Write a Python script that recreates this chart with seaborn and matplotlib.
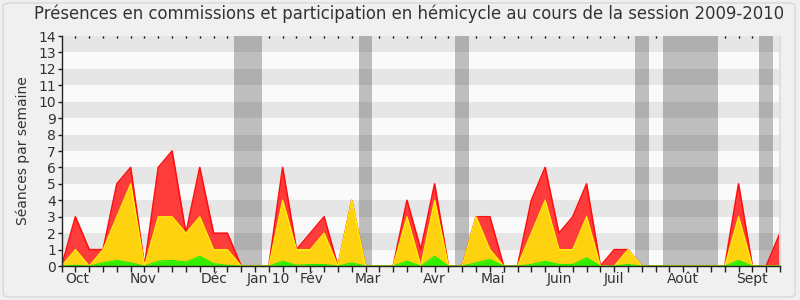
import numpy as np
import pandas as pd
import seaborn as sns
import matplotlib
matplotlib.use("Agg")
import matplotlib.pyplot as plt
from matplotlib.patches import FancyBboxPatch

# ---- data (cumulative tops of the stacked areas, one value per week) ----
weeks = list(range(53))
total = [0, 3, 1, 1, 5, 6, 0, 6, 7, 2, 6, 2, 2, 0, 0, 0, 6, 1, 2, 3, 0, 4, 0, 0, 0, 4,
         1, 5, 0, 0, 3, 3, 0, 0, 4, 6, 2, 3, 5, 0, 1, 1, 0, 0, 0, 0, 0, 0, 0, 5, 0, 0, 2]
commission = [0, 1, 0, 1, 3, 5, 0, 3, 3, 2, 3, 1, 1, 0, 0, 0, 4, 1, 1, 2, 0, 4, 0, 0, 0, 3,
              0, 4, 0, 0, 3, 1, 0, 0, 2, 4, 1, 1, 3, 0, 0, 1, 0, 0, 0, 0, 0, 0, 0, 3, 0, 0, 0]
interventions = [0, 0.05, 0, 0.2, 0.35, 0.2, 0, 0.3, 0.35, 0.25, 0.6, 0.15, 0.05, 0, 0, 0,
                 0.3, 0.05, 0.1, 0.1, 0, 0.2, 0, 0, 0, 0.3, 0, 0.6, 0, 0, 0.2, 0.4, 0, 0,
                 0.1, 0.3, 0.1, 0.1, 0.5, 0, 0, 0.1, 0, 0, 0, 0, 0, 0, 0, 0.35, 0, 0, 0]
vacations = [(12.5, 14.5), (21.5, 22.5), (28.5, 29.5), (41.5, 42.5), (43.5, 47.5), (50.5, 51.5)]
month_labels = ['Oct', 'Nov', 'Déc', 'Jan 10', 'Fév', 'Mar', 'Avr', 'Mai', 'Juin', 'Juil', 'Août', 'Sept']
month_pos = [1.1, 5.9, 11.0, 14.95, 18.1, 22.2, 27.0, 31.2, 36.0, 40.0, 45.0, 50.0]

df = pd.DataFrame({"week": weeks, "total": total, "commission": commission,
                   "interventions": interventions})

sns.set_theme(style="white")
plt.rcParams['font.family'] = ['DejaVu Sans']
txt = '#333333'

fig = plt.figure(figsize=(8, 3), dpi=100)
fig.patch.set_facecolor('#f0f0f0')
fig.patches.append(FancyBboxPatch((0.004, 0.01), 0.99, 0.98, boxstyle="round,pad=0,rounding_size=0.01",
                                  transform=fig.transFigure, facecolor='none',
                                  edgecolor='#d8d8d8', linewidth=1, zorder=-5))
ax = fig.add_axes([0.077, 0.113, 0.898, 0.767])
ax.set_facecolor('#fafafa')

# vacation bands
for a, b in vacations:
    ax.axvspan(a, b, color='#bebebe', lw=0, zorder=0.5)
# horizontal stripes
for y0 in range(1, 14, 2):
    ax.axhspan(y0, y0 + 1, color='black', alpha=0.08, lw=0, zorder=0.6)

# stacked areas
ax.fill_between(df.week, df.commission, df.total, color='#ff3c3c', lw=0, zorder=2)
ax.fill_between(df.week, df.interventions, df.commission, color='#ffd210', lw=0, zorder=3)
ax.fill_between(df.week, 0, df.interventions, color='#33ee00', lw=0, zorder=4)
sns.lineplot(data=df, x='week', y='total', color='#ff1010', lw=1.2, ax=ax, zorder=2.5)
sns.lineplot(data=df, x='week', y='commission', color='#ffee00', lw=1.0, ax=ax, zorder=3.5)
sns.lineplot(data=df, x='week', y='interventions', color='#22ee00', lw=0.8, ax=ax, zorder=4.5)

ax.set_xlim(0, 52)
ax.set_ylim(0, 14)
ax.set_yticks(range(0, 15))
ax.set_yticklabels([str(i) for i in range(15)], fontsize=10, color=txt)
ax.xaxis.remove_overlapping_locs = False
ax.set_xticks(range(0, 53))
ax.set_xticklabels([])
ax.set_xticks(month_pos, minor=True)
ax.set_xticklabels(month_labels, minor=True, fontsize=10, color=txt)
ax.tick_params(axis='x', which='major', direction='out', length=4, width=1, color='#222222',
               bottom=True, top=False)
ax.tick_params(axis='x', which='minor', length=0, pad=4)
ax.tick_params(axis='y', direction='out', length=3, width=1, color='#222222', left=True, pad=1)
# small dots along the top edge
sec = ax.secondary_xaxis('top')
sec.set_xticks(range(1, 52))
sec.set_xticklabels([])
sec.tick_params(direction='in', length=1.5, width=1, color='black')
sec.spines['top'].set_visible(False)

ax.set_xlabel('')
ax.set_ylabel('Séances par semaine', fontsize=10, color=txt, labelpad=6)
ax.spines['top'].set_visible(False)
ax.spines['right'].set_color('#dddddd')
ax.spines['left'].set_color('#222222')
ax.spines['bottom'].set_color('#222222')
ax.spines['left'].set_linewidth(1)
ax.spines['bottom'].set_linewidth(1)
ax.spines['left'].set_zorder(7)
ax.spines['bottom'].set_zorder(7)

fig.text(0.511, 0.953, 'Présences en commissions et participation en hémicycle au cours de la session 2009-2010',
         ha='center', va='center', fontsize=11.9, color=txt)

fig.savefig('out.png', dpi=100, facecolor=fig.get_facecolor())
